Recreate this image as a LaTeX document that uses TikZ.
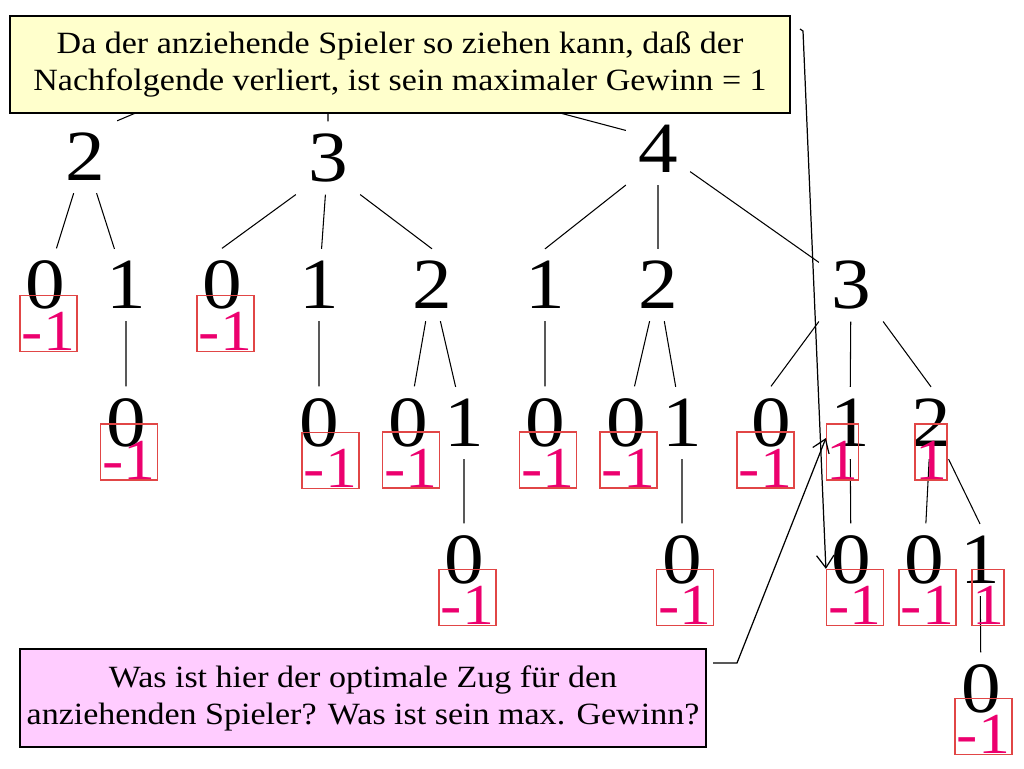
\documentclass[tikz,border=0pt]{standalone}
\usepackage{fontspec}
\setmainfont[FakeStretch=1.1]{Liberation Serif}
\usetikzlibrary{arrows.meta}
\definecolor{notey}{RGB}{255,255,204}
\definecolor{notep}{RGB}{255,204,255}
\definecolor{valred}{RGB}{236,0,110}
\definecolor{boxred}{RGB}{225,70,70}
\begin{document}
\begin{tikzpicture}[x={(0.02cm,0)},y={(0,-0.02cm)}]  % 1 Einheit = 1 Pixel, y nach unten
\tikzset{num/.style={inner sep=0.24cm,font=\fontsize{41}{41}\selectfont},
val/.style={draw=boxred,line width=0.7pt,text=valred,font=\fontsize{33}{33}\selectfont,minimum width=1.14cm,inner xsep=0pt,inner ysep=0.02cm,text height=1.08cm,text depth=0pt},
val1/.style={val,minimum width=0.64cm},
link/.style={line width=0.6pt},
lead/.style={line width=0.7pt,-{Straight Barb[length=2.5mm,width=3.5mm]}},
note/.style={draw,line width=0.8pt,align=center,font=\fontsize{17.6}{21}\selectfont,inner sep=0pt}}
\useasboundingbox (0,0) rectangle (1024,768);
% Ebene 1
\node[num] (t2) at (85,157) {2};
\node[num] (t3) at (328,158) {3};
\node[num] (t4) at (658,149) {4};
% Ebene 2
\node[num] (t20) at (45,285) {0};
\node[num] (t21) at (126,285) {1};
\node[num] (t30) at (222,285) {0};
\node[num] (t31) at (319,285) {1};
\node[num] (t32) at (432,285) {2};
\node[num] (t41) at (545,285) {1};
\node[num] (t42) at (658,285) {2};
\node[num] (t43) at (851,285) {3};
% Ebene 3
\node[num] (t210) at (126,423) {0};
\node[num] (t310) at (319,423) {0};
\node[num] (t320) at (408,423) {0};
\node[num] (t321) at (464,423) {1};
\node[num] (t410) at (545,423) {0};
\node[num] (t420) at (626,423) {0};
\node[num] (t421) at (682,423) {1};
\node[num] (t430) at (771,423) {0};
\node[num] (t431) at (850,423) {1};
\node[num] (t432) at (931,423) {2};
% Ebene 4 und 5
\node[num] (t3210) at (464,560) {0};
\node[num] (t4210) at (682,560) {0};
\node[num] (t4310) at (851,560) {0};
\node[num] (t4320) at (924,560) {0};
\node[num] (t4321) at (980,560) {1};
\node[num] (t43210) at (981,689) {0};
% Kanten
\coordinate (a2) at (190,90);
\coordinate (a3) at (328,90);
\coordinate (a4) at (511,100);
\draw[link] (a2) -- (t2.north east) (a3) -- (t3) (a4) -- (t4.150);
\draw[link] (t2) -- (t20) (t2) -- (t21);
\draw[link] (t3.south west) -- (t30.north) (t3) -- (t31) (t3.south east) -- (t32.north);
\draw[link] (t4.south west) -- (t41.north) (t4) -- (t42) (t4) -- (t43);
\draw[link] (t21) -- (t210) (t31) -- (t310) (t32) -- (t320) (t32) -- (t321);
\draw[link] (t41) -- (t410) (t42) -- (t420) (t42) -- (t421);
\draw[link] (t43.south west) -- (t430.north) (t43) -- (t431) (t43.south east) -- (t432.north);
\draw[link] (t321) -- (t3210) (t421) -- (t4210) (t431) -- (t4310);
\draw[link] (t432) -- (t4320) (t432) -- (t4321.north) (t4321) -- (t43210);
% Werte
\foreach \n/\x/\y in {20/48.5/323.5,30/225.5/323.5,210/129/452,310/330.5/460.5,320/411/460,410/548/460,420/628.5/460,430/765.5/460,3210/467.5/597.5,4210/685/597.5,4310/855/597.5,4320/927.5/597.5,43210/983.5/726.5}
\node[val] (v\n) at (\x,\y) {-1};
\node[val1] (v431) at (842.5,452) {1};
\node[val1] (v432) at (931,452) {1};
\node[val1] (v4321) at (988,597.5) {1};
% Sprechblasen
\node[note,fill=notey,minimum width=15.6cm,minimum height=1.94cm] (q1) at (400,64.5) {Da der anziehende Spieler so ziehen kann, daß der\\Nachfolgende verliert, ist sein maximaler Gewinn = 1};
\node[note,fill=notep,minimum width=13.72cm,minimum height=1.96cm] (q2) at (363,698) {Was ist hier der optimale Zug für den\\anziehenden Spieler? Was ist sein max. Gewinn?};
\coordinate (c1) at (800,29);
\coordinate (c1b) at (803,31);
\draw[lead] (c1) -- (c1b) -- (v4310.north west);
\coordinate (c2) at (713,663);
\coordinate (c2b) at (737,663);
\draw[lead] (c2) -- (c2b) -- (v431.140);
\end{tikzpicture}
\end{document}
